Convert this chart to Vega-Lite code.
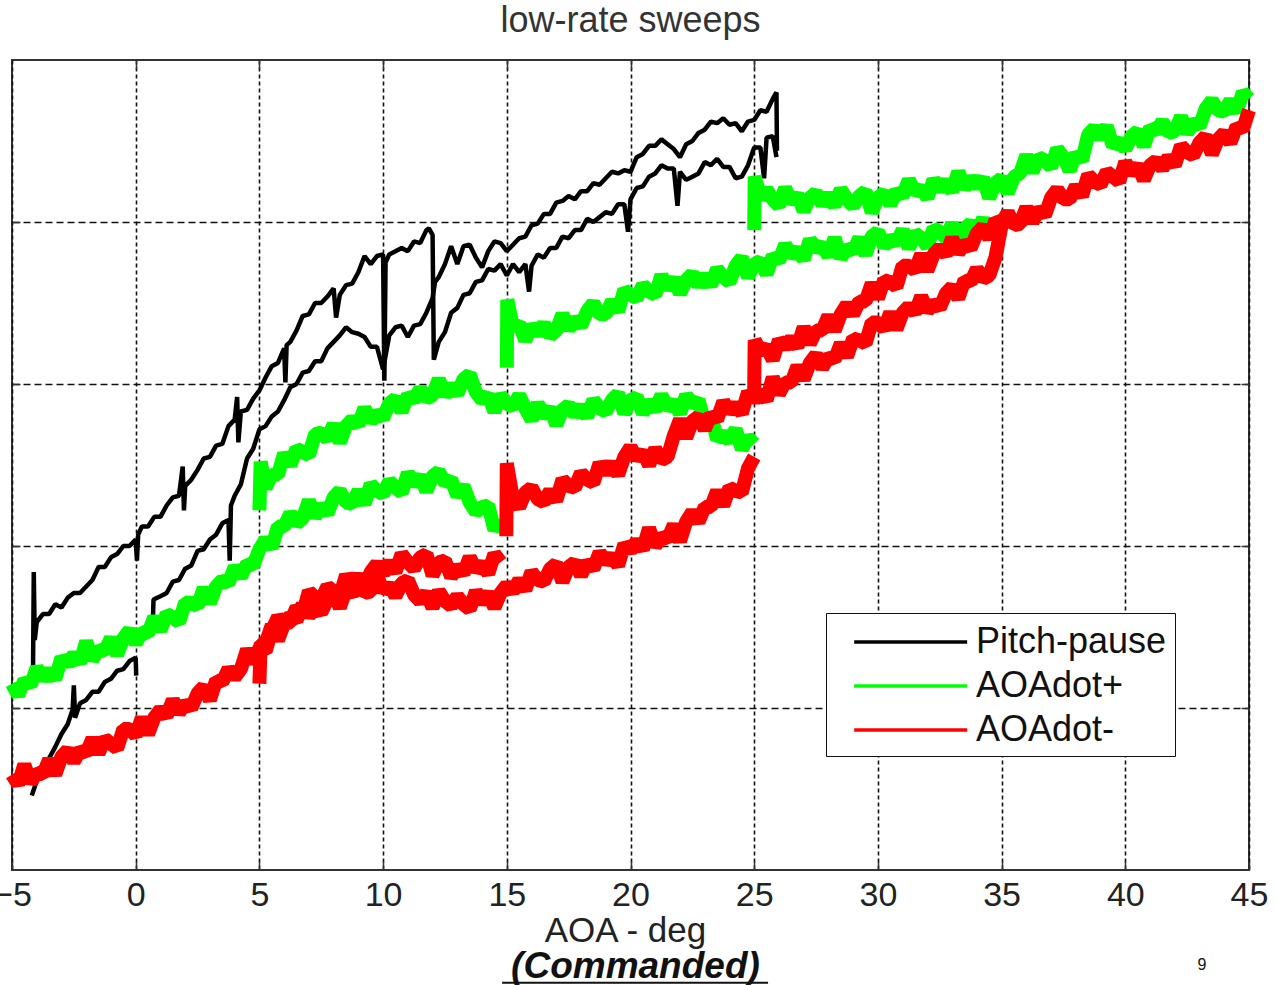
{
  "$schema": "https://vega.github.io/schema/vega-lite/v6.json",
  "width": 1237,
  "height": 810,
  "autosize": {"type": "none"},
  "padding": {"left": 12, "top": 60, "right": 27, "bottom": 115},
  "background": "white",
  "title": {"text": "low-rate sweeps", "font": "Liberation Sans", "fontSize": 36, "fontWeight": "normal", "color": "#333333", "baseline": "alphabetic", "offset": 27, "dy": 36, "anchor": "middle"},
  "config": {
    "view": {"stroke": "#333333", "strokeWidth": 2}
  },
  "datasets": {
    "k1": [{"x":-4.2,"y":0.46},{"x":-4,"y":0.55},{"x":-3.75,"y":0.61},{"x":-3.5,"y":0.69},{"x":-3.25,"y":0.76},{"x":-3,"y":0.84},{"x":-2.75,"y":0.90},{"x":-2.55,"y":0.99},{"x":-2.5,"y":1.14},{"x":-2.45,"y":0.94},{"x":-2.25,"y":1.03},{"x":-2,"y":1.05},{"x":-1.75,"y":1.10},{"x":-1.5,"y":1.10},{"x":-1.25,"y":1.16},{"x":-1,"y":1.18},{"x":-0.75,"y":1.23},{"x":-0.5,"y":1.24},{"x":-0.25,"y":1.29},{"x":0,"y":1.31},{"x":0.02,"y":1.20}],
    "k2": [{"x":-4.15,"y":1.23},{"x":-4.12,"y":1.84},{"x":-4.08,"y":1.42},{"x":-4,"y":1.53},{"x":-3.75,"y":1.58},{"x":-3.5,"y":1.58},{"x":-3.25,"y":1.64},{"x":-3,"y":1.62},{"x":-2.75,"y":1.68},{"x":-2.5,"y":1.71},{"x":-2.25,"y":1.71},{"x":-2,"y":1.75},{"x":-1.75,"y":1.79},{"x":-1.5,"y":1.87},{"x":-1.25,"y":1.87},{"x":-1,"y":1.93},{"x":-0.75,"y":1.95},{"x":-0.5,"y":2.00},{"x":-0.25,"y":2.00},{"x":0,"y":2.04},{"x":0.05,"y":1.91},{"x":0.1,"y":2.07},{"x":0.25,"y":2.12},{"x":0.5,"y":2.12},{"x":0.75,"y":2.18},{"x":1,"y":2.18},{"x":1.25,"y":2.25},{"x":1.5,"y":2.30},{"x":1.75,"y":2.31},{"x":1.9,"y":2.49},{"x":1.95,"y":2.22},{"x":2,"y":2.37},{"x":2.25,"y":2.41},{"x":2.5,"y":2.47},{"x":2.75,"y":2.54},{"x":3,"y":2.55},{"x":3.25,"y":2.62},{"x":3.5,"y":2.63},{"x":3.75,"y":2.74},{"x":4,"y":2.78},{"x":4.1,"y":2.92},{"x":4.15,"y":2.64},{"x":4.25,"y":2.83},{"x":4.5,"y":2.84},{"x":4.75,"y":2.91},{"x":5,"y":2.96},{"x":5.25,"y":3.04},{"x":5.5,"y":3.11},{"x":5.75,"y":3.13},{"x":6,"y":3.22},{"x":6.05,"y":3.01},{"x":6.1,"y":3.24},{"x":6.25,"y":3.26},{"x":6.5,"y":3.33},{"x":6.75,"y":3.42},{"x":7,"y":3.43},{"x":7.25,"y":3.50},{"x":7.5,"y":3.50},{"x":7.75,"y":3.54},{"x":8,"y":3.59},{"x":8.1,"y":3.41},{"x":8.25,"y":3.55},{"x":8.5,"y":3.61},{"x":8.75,"y":3.62},{"x":9,"y":3.69},{"x":9.25,"y":3.79},{"x":9.5,"y":3.74},{"x":9.75,"y":3.79},{"x":10,"y":3.80},{"x":10.05,"y":3.02},{"x":10.1,"y":3.75},{"x":10.25,"y":3.80},{"x":10.5,"y":3.82},{"x":10.75,"y":3.84},{"x":11,"y":3.82},{"x":11.25,"y":3.88},{"x":11.5,"y":3.87},{"x":11.75,"y":3.95},{"x":11.85,"y":3.96},{"x":12,"y":3.92},{"x":12.05,"y":3.15},{"x":12.25,"y":3.26},{"x":12.5,"y":3.32},{"x":12.75,"y":3.44},{"x":13,"y":3.47},{"x":13.25,"y":3.55},{"x":13.5,"y":3.56},{"x":13.75,"y":3.63},{"x":14,"y":3.64},{"x":14.25,"y":3.71},{"x":14.5,"y":3.70},{"x":14.75,"y":3.74},{"x":15,"y":3.67},{"x":15.25,"y":3.74},{"x":15.5,"y":3.69},{"x":15.75,"y":3.74},{"x":15.9,"y":3.57},{"x":16,"y":3.73},{"x":16.25,"y":3.80},{"x":16.5,"y":3.78},{"x":16.75,"y":3.84},{"x":17,"y":3.84},{"x":17.25,"y":3.91},{"x":17.5,"y":3.90},{"x":17.75,"y":3.95},{"x":18,"y":3.95},{"x":18.25,"y":4.02},{"x":18.5,"y":4.00},{"x":18.75,"y":4.03},{"x":19,"y":4.06},{"x":19.25,"y":4.05},{"x":19.5,"y":4.11},{"x":19.75,"y":4.11},{"x":19.9,"y":3.94},{"x":20,"y":4.14},{"x":20.25,"y":4.21},{"x":20.5,"y":4.22},{"x":20.75,"y":4.28},{"x":21,"y":4.30},{"x":21.25,"y":4.35},{"x":21.5,"y":4.33},{"x":21.75,"y":4.33},{"x":21.9,"y":4.10},{"x":22,"y":4.31},{"x":22.25,"y":4.26},{"x":22.5,"y":4.28},{"x":22.75,"y":4.30},{"x":23,"y":4.37},{"x":23.25,"y":4.35},{"x":23.5,"y":4.39},{"x":23.75,"y":4.34},{"x":24,"y":4.34},{"x":24.25,"y":4.27},{"x":24.5,"y":4.28},{"x":24.75,"y":4.35},{"x":25,"y":4.46},{"x":25.25,"y":4.46},{"x":25.4,"y":4.27},{"x":25.5,"y":4.52},{"x":25.75,"y":4.53},{"x":25.9,"y":4.40}],
    "k3": [{"x":0.7,"y":1.57},{"x":0.72,"y":1.67},{"x":1,"y":1.69},{"x":1.25,"y":1.71},{"x":1.5,"y":1.78},{"x":1.75,"y":1.79},{"x":2,"y":1.86},{"x":2.25,"y":1.88},{"x":2.5,"y":1.97},{"x":2.75,"y":1.98},{"x":3,"y":2.04},{"x":3.25,"y":2.07},{"x":3.5,"y":2.14},{"x":3.75,"y":2.16},{"x":3.8,"y":1.91},{"x":3.85,"y":2.25},{"x":4,"y":2.31},{"x":4.25,"y":2.38},{"x":4.5,"y":2.54},{"x":4.75,"y":2.60},{"x":5,"y":2.72},{"x":5.25,"y":2.74},{"x":5.5,"y":2.80},{"x":5.75,"y":2.83},{"x":6,"y":2.90},{"x":6.25,"y":2.98},{"x":6.5,"y":3.00},{"x":6.75,"y":3.07},{"x":7,"y":3.08},{"x":7.25,"y":3.14},{"x":7.5,"y":3.14},{"x":7.75,"y":3.22},{"x":8,"y":3.26},{"x":8.25,"y":3.30},{"x":8.5,"y":3.35},{"x":8.75,"y":3.32},{"x":9,"y":3.31},{"x":9.25,"y":3.29},{"x":9.5,"y":3.23},{"x":9.75,"y":3.23},{"x":10,"y":3.09},{"x":10.25,"y":3.30},{"x":10.5,"y":3.35},{"x":10.75,"y":3.36},{"x":11,"y":3.29},{"x":11.25,"y":3.36},{"x":11.5,"y":3.37},{"x":11.75,"y":3.44},{"x":12,"y":3.53},{"x":12.1,"y":3.63},{"x":12.25,"y":3.66},{"x":12.5,"y":3.74},{"x":12.75,"y":3.85},{"x":13,"y":3.74},{"x":13.25,"y":3.85},{"x":13.5,"y":3.86},{"x":13.75,"y":3.78},{"x":14,"y":3.72},{"x":14.25,"y":3.82},{"x":14.5,"y":3.88},{"x":14.75,"y":3.87},{"x":15,"y":3.82},{"x":15.25,"y":3.86},{"x":15.5,"y":3.90},{"x":15.75,"y":3.91},{"x":16,"y":3.98},{"x":16.25,"y":3.99},{"x":16.5,"y":4.05},{"x":16.75,"y":4.05},{"x":17,"y":4.12},{"x":17.25,"y":4.13},{"x":17.5,"y":4.16},{"x":17.75,"y":4.14},{"x":18,"y":4.19},{"x":18.25,"y":4.19},{"x":18.5,"y":4.24},{"x":18.75,"y":4.23},{"x":19,"y":4.27},{"x":19.25,"y":4.31},{"x":19.5,"y":4.30},{"x":19.75,"y":4.32},{"x":20,"y":4.31},{"x":20.25,"y":4.40},{"x":20.5,"y":4.42},{"x":20.75,"y":4.47},{"x":21,"y":4.47},{"x":21.25,"y":4.51},{"x":21.5,"y":4.48},{"x":21.75,"y":4.45},{"x":22,"y":4.40},{"x":22.25,"y":4.48},{"x":22.5,"y":4.50},{"x":22.75,"y":4.55},{"x":23,"y":4.57},{"x":23.25,"y":4.62},{"x":23.5,"y":4.61},{"x":23.75,"y":4.64},{"x":24,"y":4.60},{"x":24.25,"y":4.61},{"x":24.5,"y":4.56},{"x":24.75,"y":4.62},{"x":25,"y":4.63},{"x":25.25,"y":4.69},{"x":25.5,"y":4.68},{"x":25.75,"y":4.76},{"x":25.9,"y":4.80},{"x":25.92,"y":4.44}],
    "g1": [{"x":-5,"y":1.15},{"x":-4.75,"y":1.08},{"x":-4.5,"y":1.17},{"x":-4.25,"y":1.14},{"x":-4,"y":1.25},{"x":-3.75,"y":1.18},{"x":-3.5,"y":1.23},{"x":-3.25,"y":1.18},{"x":-3,"y":1.31},{"x":-2.75,"y":1.27},{"x":-2.5,"y":1.33},{"x":-2.25,"y":1.28},{"x":-2,"y":1.41},{"x":-1.75,"y":1.30},{"x":-1.5,"y":1.36},{"x":-1.25,"y":1.35},{"x":-1,"y":1.43},{"x":-0.75,"y":1.33},{"x":-0.5,"y":1.43},{"x":-0.25,"y":1.48},{"x":0,"y":1.40},{"x":0.25,"y":1.47},{"x":0.5,"y":1.46},{"x":0.75,"y":1.56},{"x":1,"y":1.48},{"x":1.25,"y":1.58},{"x":1.5,"y":1.56},{"x":1.75,"y":1.53},{"x":2,"y":1.65},{"x":2.25,"y":1.65},{"x":2.5,"y":1.63},{"x":2.75,"y":1.74},{"x":3,"y":1.65},{"x":3.25,"y":1.75},{"x":3.5,"y":1.79},{"x":3.75,"y":1.77},{"x":4,"y":1.87},{"x":4.25,"y":1.81},{"x":4.5,"y":1.89},{"x":4.75,"y":1.88},{"x":5,"y":1.98},{"x":5.25,"y":2.04},{"x":5.5,"y":1.99},{"x":5.75,"y":2.12},{"x":6,"y":2.12},{"x":6.25,"y":2.20},{"x":6.5,"y":2.14},{"x":6.75,"y":2.17},{"x":7,"y":2.28},{"x":7.25,"y":2.18},{"x":7.5,"y":2.25},{"x":7.75,"y":2.20},{"x":8,"y":2.30},{"x":8.25,"y":2.34},{"x":8.5,"y":2.27},{"x":8.75,"y":2.26},{"x":9,"y":2.34},{"x":9.25,"y":2.26},{"x":9.5,"y":2.38},{"x":9.75,"y":2.34},{"x":10,"y":2.32},{"x":10.25,"y":2.40},{"x":10.5,"y":2.36},{"x":10.75,"y":2.33},{"x":11,"y":2.45},{"x":11.25,"y":2.38},{"x":11.5,"y":2.43},{"x":11.75,"y":2.34},{"x":12,"y":2.43},{"x":12.25,"y":2.46},{"x":12.5,"y":2.39},{"x":12.75,"y":2.41},{"x":13,"y":2.31},{"x":13.25,"y":2.37},{"x":13.5,"y":2.27},{"x":13.75,"y":2.21},{"x":14,"y":2.24},{"x":14.25,"y":2.25},{"x":14.5,"y":2.10},{"x":14.75,"y":2.16}],
    "g2": [{"x":5,"y":2.22},{"x":5.05,"y":2.52},{"x":5.25,"y":2.36},{"x":5.5,"y":2.44},{"x":5.75,"y":2.44},{"x":6,"y":2.57},{"x":6.25,"y":2.50},{"x":6.5,"y":2.60},{"x":6.75,"y":2.58},{"x":7,"y":2.56},{"x":7.25,"y":2.69},{"x":7.5,"y":2.70},{"x":7.75,"y":2.66},{"x":8,"y":2.75},{"x":8.25,"y":2.64},{"x":8.5,"y":2.74},{"x":8.75,"y":2.78},{"x":9,"y":2.75},{"x":9.25,"y":2.85},{"x":9.5,"y":2.77},{"x":9.75,"y":2.82},{"x":10,"y":2.79},{"x":10.25,"y":2.88},{"x":10.5,"y":2.91},{"x":10.75,"y":2.83},{"x":11,"y":2.93},{"x":11.25,"y":2.90},{"x":11.5,"y":2.97},{"x":11.75,"y":2.91},{"x":12,"y":2.93},{"x":12.25,"y":3.03},{"x":12.5,"y":2.93},{"x":12.75,"y":2.99},{"x":13,"y":2.94},{"x":13.25,"y":3.03},{"x":13.5,"y":3.06},{"x":13.75,"y":2.95},{"x":14,"y":2.90},{"x":14.25,"y":2.93},{"x":14.5,"y":2.83},{"x":14.75,"y":2.93},{"x":15,"y":2.88},{"x":15.25,"y":2.86},{"x":15.5,"y":2.93},{"x":15.75,"y":2.85},{"x":16,"y":2.78},{"x":16.25,"y":2.88},{"x":16.5,"y":2.80},{"x":16.75,"y":2.85},{"x":17,"y":2.75},{"x":17.25,"y":2.84},{"x":17.5,"y":2.87},{"x":17.75,"y":2.81},{"x":18,"y":2.86},{"x":18.25,"y":2.80},{"x":18.5,"y":2.90},{"x":18.75,"y":2.85},{"x":19,"y":2.83},{"x":19.25,"y":2.90},{"x":19.5,"y":2.94},{"x":19.75,"y":2.82},{"x":20,"y":2.90},{"x":20.25,"y":2.92},{"x":20.5,"y":2.82},{"x":20.75,"y":2.89},{"x":21,"y":2.84},{"x":21.25,"y":2.93},{"x":21.5,"y":2.85},{"x":21.75,"y":2.89},{"x":22,"y":2.82},{"x":22.25,"y":2.93},{"x":22.5,"y":2.87},{"x":22.75,"y":2.90},{"x":23,"y":2.76},{"x":23.25,"y":2.81},{"x":23.5,"y":2.66},{"x":23.75,"y":2.69},{"x":24,"y":2.65},{"x":24.25,"y":2.72},{"x":24.5,"y":2.60},{"x":24.75,"y":2.67},{"x":25,"y":2.63}],
    "g3": [{"x":15,"y":3.10},{"x":15.02,"y":3.52},{"x":15.25,"y":3.35},{"x":15.5,"y":3.37},{"x":15.75,"y":3.27},{"x":16,"y":3.36},{"x":16.25,"y":3.31},{"x":16.5,"y":3.37},{"x":16.75,"y":3.30},{"x":17,"y":3.33},{"x":17.25,"y":3.43},{"x":17.5,"y":3.34},{"x":17.75,"y":3.40},{"x":18,"y":3.36},{"x":18.25,"y":3.45},{"x":18.5,"y":3.50},{"x":18.75,"y":3.43},{"x":19,"y":3.43},{"x":19.25,"y":3.51},{"x":19.5,"y":3.45},{"x":19.75,"y":3.58},{"x":20,"y":3.55},{"x":20.25,"y":3.53},{"x":20.5,"y":3.61},{"x":20.75,"y":3.57},{"x":21,"y":3.55},{"x":21.25,"y":3.67},{"x":21.5,"y":3.59},{"x":21.75,"y":3.65},{"x":22,"y":3.56},{"x":22.25,"y":3.64},{"x":22.5,"y":3.68},{"x":22.75,"y":3.61},{"x":23,"y":3.67},{"x":23.25,"y":3.61},{"x":23.5,"y":3.71},{"x":23.75,"y":3.66},{"x":24,"y":3.63},{"x":24.25,"y":3.73},{"x":24.5,"y":3.78},{"x":24.75,"y":3.66},{"x":25,"y":3.74},{"x":25.25,"y":3.76},{"x":25.5,"y":3.68},{"x":25.75,"y":3.79},{"x":26,"y":3.76},{"x":26.25,"y":3.86},{"x":26.5,"y":3.79},{"x":26.75,"y":3.83},{"x":27,"y":3.77},{"x":27.25,"y":3.89},{"x":27.5,"y":3.83},{"x":27.75,"y":3.86},{"x":28,"y":3.79},{"x":28.25,"y":3.90},{"x":28.5,"y":3.78},{"x":28.75,"y":3.84},{"x":29,"y":3.82},{"x":29.25,"y":3.90},{"x":29.5,"y":3.80},{"x":29.75,"y":3.91},{"x":30,"y":3.94},{"x":30.25,"y":3.85},{"x":30.5,"y":3.90},{"x":30.75,"y":3.87},{"x":31,"y":3.95},{"x":31.25,"y":3.84},{"x":31.5,"y":3.93},{"x":31.75,"y":3.90},{"x":32,"y":3.85},{"x":32.25,"y":3.96},{"x":32.5,"y":3.94},{"x":32.75,"y":3.90},{"x":33,"y":3.99},{"x":33.25,"y":3.88},{"x":33.5,"y":3.96},{"x":33.75,"y":3.99},{"x":34,"y":3.94},{"x":34.25,"y":4.02},{"x":34.5,"y":3.91},{"x":34.75,"y":3.95}],
    "g4": [{"x":25,"y":3.95},{"x":25.02,"y":4.28},{"x":25.25,"y":4.15},{"x":25.5,"y":4.20},{"x":25.75,"y":4.14},{"x":26,"y":4.10},{"x":26.25,"y":4.21},{"x":26.5,"y":4.12},{"x":26.75,"y":4.17},{"x":27,"y":4.07},{"x":27.25,"y":4.15},{"x":27.5,"y":4.18},{"x":27.75,"y":4.11},{"x":28,"y":4.17},{"x":28.25,"y":4.10},{"x":28.5,"y":4.20},{"x":28.75,"y":4.14},{"x":29,"y":4.10},{"x":29.25,"y":4.16},{"x":29.5,"y":4.19},{"x":29.75,"y":4.06},{"x":30,"y":4.15},{"x":30.25,"y":4.18},{"x":30.5,"y":4.11},{"x":30.75,"y":4.19},{"x":31,"y":4.16},{"x":31.25,"y":4.26},{"x":31.5,"y":4.18},{"x":31.75,"y":4.21},{"x":32,"y":4.15},{"x":32.25,"y":4.26},{"x":32.5,"y":4.20},{"x":32.75,"y":4.25},{"x":33,"y":4.19},{"x":33.25,"y":4.31},{"x":33.5,"y":4.21},{"x":33.75,"y":4.27},{"x":34,"y":4.22},{"x":34.25,"y":4.27},{"x":34.5,"y":4.15},{"x":34.75,"y":4.24},{"x":35,"y":4.27},{"x":35.25,"y":4.18},{"x":35.5,"y":4.28},{"x":35.75,"y":4.30},{"x":36,"y":4.41},{"x":36.25,"y":4.31},{"x":36.5,"y":4.40},{"x":36.75,"y":4.38},{"x":37,"y":4.34},{"x":37.25,"y":4.45},{"x":37.5,"y":4.40},{"x":37.75,"y":4.32},{"x":38,"y":4.42},{"x":38.25,"y":4.38},{"x":38.5,"y":4.54},{"x":38.75,"y":4.58},{"x":39,"y":4.52},{"x":39.25,"y":4.59},{"x":39.5,"y":4.47},{"x":39.75,"y":4.50},{"x":40,"y":4.45},{"x":40.25,"y":4.53},{"x":40.5,"y":4.56},{"x":40.75,"y":4.47},{"x":41,"y":4.58},{"x":41.25,"y":4.56},{"x":41.5,"y":4.62},{"x":41.75,"y":4.55},{"x":42,"y":4.56},{"x":42.25,"y":4.65},{"x":42.5,"y":4.55},{"x":42.75,"y":4.62},{"x":43,"y":4.59},{"x":43.25,"y":4.70},{"x":43.5,"y":4.75},{"x":43.75,"y":4.69},{"x":44,"y":4.68},{"x":44.25,"y":4.75},{"x":44.5,"y":4.68},{"x":44.75,"y":4.80},{"x":45,"y":4.76}],
    "r1": [{"x":-5,"y":0.59},{"x":-4.75,"y":0.53},{"x":-4.5,"y":0.65},{"x":-4.25,"y":0.54},{"x":-4,"y":0.60},{"x":-3.75,"y":0.59},{"x":-3.5,"y":0.68},{"x":-3.25,"y":0.59},{"x":-3,"y":0.70},{"x":-2.75,"y":0.74},{"x":-2.5,"y":0.67},{"x":-2.25,"y":0.74},{"x":-2,"y":0.72},{"x":-1.75,"y":0.81},{"x":-1.5,"y":0.72},{"x":-1.25,"y":0.81},{"x":-1,"y":0.78},{"x":-0.75,"y":0.75},{"x":-0.5,"y":0.87},{"x":-0.25,"y":0.87},{"x":0,"y":0.83},{"x":0.25,"y":0.94},{"x":0.5,"y":0.84},{"x":0.75,"y":0.94},{"x":1,"y":0.99},{"x":1.25,"y":0.95},{"x":1.5,"y":1.05},{"x":1.75,"y":0.97},{"x":2,"y":1.03},{"x":2.25,"y":1.00},{"x":2.5,"y":1.09},{"x":2.75,"y":1.13},{"x":3,"y":1.05},{"x":3.25,"y":1.17},{"x":3.5,"y":1.16},{"x":3.75,"y":1.24},{"x":4,"y":1.19},{"x":4.25,"y":1.24},{"x":4.5,"y":1.36},{"x":4.75,"y":1.28},{"x":5,"y":1.37},{"x":5.25,"y":1.35},{"x":5.5,"y":1.48},{"x":5.75,"y":1.56},{"x":6,"y":1.52},{"x":6.25,"y":1.53},{"x":6.5,"y":1.62},{"x":6.75,"y":1.58},{"x":7,"y":1.72},{"x":7.25,"y":1.68},{"x":7.5,"y":1.67},{"x":7.75,"y":1.75},{"x":8,"y":1.72},{"x":8.25,"y":1.69},{"x":8.5,"y":1.82},{"x":8.75,"y":1.75},{"x":9,"y":1.82},{"x":9.25,"y":1.74},{"x":9.5,"y":1.84},{"x":9.75,"y":1.89},{"x":10,"y":1.83},{"x":10.25,"y":1.90},{"x":10.5,"y":1.84},{"x":10.75,"y":1.95},{"x":11,"y":1.90},{"x":11.25,"y":1.86},{"x":11.5,"y":1.93},{"x":11.75,"y":1.95},{"x":12,"y":1.82},{"x":12.25,"y":1.90},{"x":12.5,"y":1.91},{"x":12.75,"y":1.81},{"x":13,"y":1.87},{"x":13.25,"y":1.83},{"x":13.5,"y":1.93},{"x":13.75,"y":1.85},{"x":14,"y":1.89},{"x":14.25,"y":1.83},{"x":14.5,"y":1.95},{"x":14.75,"y":1.90}],
    "r2": [{"x":5,"y":1.15},{"x":5.05,"y":1.40},{"x":5.25,"y":1.40},{"x":5.5,"y":1.51},{"x":5.75,"y":1.42},{"x":6,"y":1.52},{"x":6.25,"y":1.57},{"x":6.5,"y":1.54},{"x":6.75,"y":1.64},{"x":7,"y":1.57},{"x":7.25,"y":1.62},{"x":7.5,"y":1.59},{"x":7.75,"y":1.67},{"x":8,"y":1.71},{"x":8.25,"y":1.62},{"x":8.5,"y":1.73},{"x":8.75,"y":1.70},{"x":9,"y":1.78},{"x":9.25,"y":1.71},{"x":9.5,"y":1.72},{"x":9.75,"y":1.82},{"x":10,"y":1.72},{"x":10.25,"y":1.76},{"x":10.5,"y":1.69},{"x":10.75,"y":1.77},{"x":11,"y":1.79},{"x":11.25,"y":1.70},{"x":11.5,"y":1.66},{"x":11.75,"y":1.71},{"x":12,"y":1.62},{"x":12.25,"y":1.72},{"x":12.5,"y":1.66},{"x":12.75,"y":1.63},{"x":13,"y":1.69},{"x":13.25,"y":1.64},{"x":13.5,"y":1.61},{"x":13.75,"y":1.72},{"x":14,"y":1.65},{"x":14.25,"y":1.71},{"x":14.5,"y":1.62},{"x":14.75,"y":1.71},{"x":15,"y":1.76},{"x":15.25,"y":1.72},{"x":15.5,"y":1.79},{"x":15.75,"y":1.73},{"x":16,"y":1.84},{"x":16.25,"y":1.79},{"x":16.5,"y":1.78},{"x":16.75,"y":1.86},{"x":17,"y":1.89},{"x":17.25,"y":1.78},{"x":17.5,"y":1.87},{"x":17.75,"y":1.90},{"x":18,"y":1.82},{"x":18.25,"y":1.90},{"x":18.5,"y":1.86},{"x":18.75,"y":1.96},{"x":19,"y":1.90},{"x":19.25,"y":1.94},{"x":19.5,"y":1.88},{"x":19.75,"y":2.01},{"x":20,"y":1.97},{"x":20.25,"y":2.03},{"x":20.5,"y":1.98},{"x":20.75,"y":2.11},{"x":21,"y":2.00},{"x":21.25,"y":2.06},{"x":21.5,"y":2.04},{"x":21.75,"y":2.13},{"x":22,"y":2.03},{"x":22.25,"y":2.15},{"x":22.5,"y":2.21},{"x":22.75,"y":2.15},{"x":23,"y":2.24},{"x":23.25,"y":2.24},{"x":23.5,"y":2.34},{"x":23.75,"y":2.25},{"x":24,"y":2.36},{"x":24.25,"y":2.34},{"x":24.5,"y":2.33},{"x":24.75,"y":2.48},{"x":25,"y":2.55}],
    "r3": [{"x":14.98,"y":2.06},{"x":15,"y":2.51},{"x":15.25,"y":2.29},{"x":15.5,"y":2.24},{"x":15.75,"y":2.33},{"x":16,"y":2.36},{"x":16.25,"y":2.29},{"x":16.5,"y":2.27},{"x":16.75,"y":2.34},{"x":17,"y":2.28},{"x":17.25,"y":2.41},{"x":17.5,"y":2.37},{"x":17.75,"y":2.36},{"x":18,"y":2.45},{"x":18.25,"y":2.41},{"x":18.5,"y":2.39},{"x":18.75,"y":2.51},{"x":19,"y":2.45},{"x":19.25,"y":2.51},{"x":19.5,"y":2.44},{"x":19.75,"y":2.55},{"x":20,"y":2.61},{"x":20.25,"y":2.54},{"x":20.5,"y":2.58},{"x":20.75,"y":2.50},{"x":21,"y":2.60},{"x":21.25,"y":2.53},{"x":21.5,"y":2.55},{"x":21.75,"y":2.68},{"x":22,"y":2.78},{"x":22.25,"y":2.67},{"x":22.5,"y":2.77},{"x":22.75,"y":2.80},{"x":23,"y":2.72},{"x":23.25,"y":2.81},{"x":23.5,"y":2.78},{"x":23.75,"y":2.89},{"x":24,"y":2.83},{"x":24.25,"y":2.87},{"x":24.5,"y":2.82},{"x":24.75,"y":2.95},{"x":25,"y":2.90},{"x":25.25,"y":2.95},{"x":25.5,"y":2.90},{"x":25.75,"y":3.04},{"x":26,"y":2.94},{"x":26.25,"y":3.01},{"x":26.5,"y":3.01},{"x":26.75,"y":3.11},{"x":27,"y":3.03},{"x":27.25,"y":3.13},{"x":27.5,"y":3.18},{"x":27.75,"y":3.10},{"x":28,"y":3.17},{"x":28.25,"y":3.15},{"x":28.5,"y":3.25},{"x":28.75,"y":3.17},{"x":29,"y":3.28},{"x":29.25,"y":3.27},{"x":29.5,"y":3.25},{"x":29.75,"y":3.38},{"x":30,"y":3.38},{"x":30.25,"y":3.34},{"x":30.5,"y":3.44},{"x":30.75,"y":3.34},{"x":31,"y":3.44},{"x":31.25,"y":3.48},{"x":31.5,"y":3.44},{"x":31.75,"y":3.54},{"x":32,"y":3.45},{"x":32.25,"y":3.50},{"x":32.5,"y":3.47},{"x":32.75,"y":3.56},{"x":33,"y":3.60},{"x":33.25,"y":3.53},{"x":33.5,"y":3.64},{"x":33.75,"y":3.63},{"x":34,"y":3.71},{"x":34.25,"y":3.65},{"x":34.5,"y":3.67},{"x":34.75,"y":3.78},{"x":35,"y":3.98}],
    "r4": [{"x":25,"y":2.96},{"x":25.02,"y":3.27},{"x":25.25,"y":3.20},{"x":25.5,"y":3.23},{"x":25.75,"y":3.15},{"x":26,"y":3.27},{"x":26.25,"y":3.23},{"x":26.5,"y":3.28},{"x":26.75,"y":3.23},{"x":27,"y":3.35},{"x":27.25,"y":3.25},{"x":27.5,"y":3.33},{"x":27.75,"y":3.33},{"x":28,"y":3.42},{"x":28.25,"y":3.33},{"x":28.5,"y":3.43},{"x":28.75,"y":3.49},{"x":29,"y":3.43},{"x":29.25,"y":3.51},{"x":29.5,"y":3.51},{"x":29.75,"y":3.62},{"x":30,"y":3.53},{"x":30.25,"y":3.64},{"x":30.5,"y":3.63},{"x":30.75,"y":3.60},{"x":31,"y":3.73},{"x":31.25,"y":3.73},{"x":31.5,"y":3.70},{"x":31.75,"y":3.80},{"x":32,"y":3.70},{"x":32.25,"y":3.80},{"x":32.5,"y":3.84},{"x":32.75,"y":3.80},{"x":33,"y":3.90},{"x":33.25,"y":3.81},{"x":33.5,"y":3.87},{"x":33.75,"y":3.84},{"x":34,"y":3.93},{"x":34.25,"y":3.97},{"x":34.5,"y":3.90},{"x":34.75,"y":4.01},{"x":35,"y":3.99},{"x":35.25,"y":4.06},{"x":35.5,"y":3.98},{"x":35.75,"y":3.99},{"x":36,"y":4.09},{"x":36.25,"y":4.00},{"x":36.5,"y":4.08},{"x":36.75,"y":4.04},{"x":37,"y":4.15},{"x":37.25,"y":4.20},{"x":37.5,"y":4.14},{"x":37.75,"y":4.14},{"x":38,"y":4.22},{"x":38.25,"y":4.16},{"x":38.5,"y":4.29},{"x":38.75,"y":4.25},{"x":39,"y":4.23},{"x":39.25,"y":4.31},{"x":39.5,"y":4.28},{"x":39.75,"y":4.25},{"x":40,"y":4.37},{"x":40.25,"y":4.30},{"x":40.5,"y":4.35},{"x":40.75,"y":4.26},{"x":41,"y":4.35},{"x":41.25,"y":4.38},{"x":41.5,"y":4.33},{"x":41.75,"y":4.40},{"x":42,"y":4.35},{"x":42.25,"y":4.47},{"x":42.5,"y":4.43},{"x":42.75,"y":4.41},{"x":43,"y":4.49},{"x":43.25,"y":4.53},{"x":43.5,"y":4.42},{"x":43.75,"y":4.51},{"x":44,"y":4.55},{"x":44.25,"y":4.49},{"x":44.5,"y":4.59},{"x":44.75,"y":4.57},{"x":45,"y":4.69}]
  },
  "layer": [
    {
      "encoding": {
        "x": {"field": "x", "type": "quantitative", "scale": {"domain": [-5, 45], "nice": false, "zero": false},
          "axis": {"orient": "bottom", "values": [-5, 0, 5, 10, 15, 20, 25, 30, 35, 40, 45], "grid": true, "gridDash": [4, 3], "gridColor": "#111111", "gridWidth": 1.6, "gridOpacity": 1, "domain": false, "ticks": true, "tickSize": -9, "tickColor": "#333333", "tickWidth": 1.5, "labelPadding": 17, "labelFont": "Liberation Sans", "labelFontSize": 34, "labelColor": "#222222", "labelFlush": false, "labelOverlap": false, "labelBaseline": "top", "title": "AOA - deg", "titleFont": "Liberation Sans", "titleFontSize": 35, "titleFontWeight": "normal", "titleColor": "#222222", "titleX": 613, "titleY": 71, "titleBaseline": "alphabetic", "titleAlign": "center"}},
        "y": {"field": "y", "type": "quantitative", "scale": {"domain": [0, 5], "nice": false, "zero": false},
          "axis": {"orient": "left", "values": [1, 2, 3, 4], "grid": true, "gridDash": [7, 4], "gridColor": "#111111", "gridWidth": 1.6, "gridOpacity": 1, "domain": false, "labels": false, "ticks": true, "tickSize": -8, "tickColor": "#333333", "tickWidth": 1.5, "title": null}}
      },
      "layer": [
        {"data": {"name": "k1"}, "mark": {"type": "line", "strokeWidth": 4.5, "strokeJoin": "bevel"},
          "encoding": {"color": {"datum": "Pitch-pause", "scale": {"domain": ["Pitch-pause", "AOAdot+", "AOAdot-"], "range": ["#000000", "#00ff00", "#ff0000"]},
            "legend": {"orient": "none", "legendX": 814, "legendY": 553, "title": null, "direction": "vertical", "symbolType": "M-1,0H5", "symbolSize": 1418, "symbolStrokeWidth": 3.5, "symbolOffset": 18, "labelFont": "Liberation Sans", "labelFontSize": 36, "labelColor": "#111111", "labelOffset": 82, "labelLimit": 400, "padding": 8, "rowPadding": 5, "strokeColor": "#111111", "fillColor": "white"}}}},
        {"data": {"name": "k2"}, "mark": {"type": "line", "strokeWidth": 4.5, "strokeJoin": "bevel"}, "encoding": {"color": {"datum": "Pitch-pause"}}},
        {"data": {"name": "k3"}, "mark": {"type": "line", "strokeWidth": 4.5, "strokeJoin": "bevel"}, "encoding": {"color": {"datum": "Pitch-pause"}}},
        {"data": {"name": "g1"}, "mark": {"type": "line", "strokeWidth": 14, "strokeJoin": "bevel"}, "encoding": {"color": {"datum": "AOAdot+"}}},
        {"data": {"name": "g2"}, "mark": {"type": "line", "strokeWidth": 14, "strokeJoin": "bevel"}, "encoding": {"color": {"datum": "AOAdot+"}}},
        {"data": {"name": "g3"}, "mark": {"type": "line", "strokeWidth": 14, "strokeJoin": "bevel"}, "encoding": {"color": {"datum": "AOAdot+"}}},
        {"data": {"name": "g4"}, "mark": {"type": "line", "strokeWidth": 14, "strokeJoin": "bevel"}, "encoding": {"color": {"datum": "AOAdot+"}}},
        {"data": {"name": "r1"}, "mark": {"type": "line", "strokeWidth": 14, "strokeJoin": "bevel"}, "encoding": {"color": {"datum": "AOAdot-"}}},
        {"data": {"name": "r2"}, "mark": {"type": "line", "strokeWidth": 14, "strokeJoin": "bevel"}, "encoding": {"color": {"datum": "AOAdot-"}}},
        {"data": {"name": "r3"}, "mark": {"type": "line", "strokeWidth": 14, "strokeJoin": "bevel"}, "encoding": {"color": {"datum": "AOAdot-"}}},
        {"data": {"name": "r4"}, "mark": {"type": "line", "strokeWidth": 14, "strokeJoin": "bevel"}, "encoding": {"color": {"datum": "AOAdot-"}}}
      ]
    },
    {
      "data": {"values": [{}]},
      "mark": {"type": "rule", "color": "#111111", "strokeWidth": 2},
      "encoding": {
        "x": {"datum": 14.81, "type": "quantitative", "scale": {"domain": [-5, 45], "nice": false, "zero": false},
          "axis": {"orient": "top", "values": [0, 5, 10, 15, 20, 25, 30, 35, 40], "grid": false, "domain": false, "labels": false, "ticks": true, "tickSize": -9, "tickColor": "#333333", "tickWidth": 1.5, "title": null}},
        "x2": {"datum": 25.56},
        "y": {"datum": -0.696, "type": "quantitative", "scale": {"domain": [0, 5], "nice": false, "zero": false},
          "axis": {"orient": "right", "values": [1, 2, 3, 4], "grid": false, "domain": false, "labels": false, "ticks": true, "tickSize": -8, "tickColor": "#333333", "tickWidth": 1.5, "title": null}}
      }
    },
    {
      "data": {"values": [{}]},
      "mark": {"type": "text", "text": "(Commanded)", "font": "Liberation Sans", "fontSize": 37, "fontStyle": "italic", "fontWeight": "bold", "color": "#111111", "align": "center", "baseline": "alphabetic"},
      "encoding": {
        "x": {"datum": 20.2, "type": "quantitative", "scale": {"domain": [-5, 45], "nice": false, "zero": false}, "axis": null},
        "y": {"datum": -0.667, "type": "quantitative", "scale": {"domain": [0, 5], "nice": false, "zero": false}, "axis": null}
      }
    },
    {
      "data": {"values": [{}]},
      "mark": {"type": "text", "text": "9", "font": "Liberation Sans", "fontSize": 16, "color": "#111111", "align": "center", "baseline": "alphabetic"},
      "encoding": {
        "x": {"datum": 43.1, "type": "quantitative", "scale": {"domain": [-5, 45], "nice": false, "zero": false}, "axis": null},
        "y": {"datum": -0.62, "type": "quantitative", "scale": {"domain": [0, 5], "nice": false, "zero": false}, "axis": null}
      }
    }
  ],
  "resolve": {"axis": {"x": "independent", "y": "independent"}}
}
